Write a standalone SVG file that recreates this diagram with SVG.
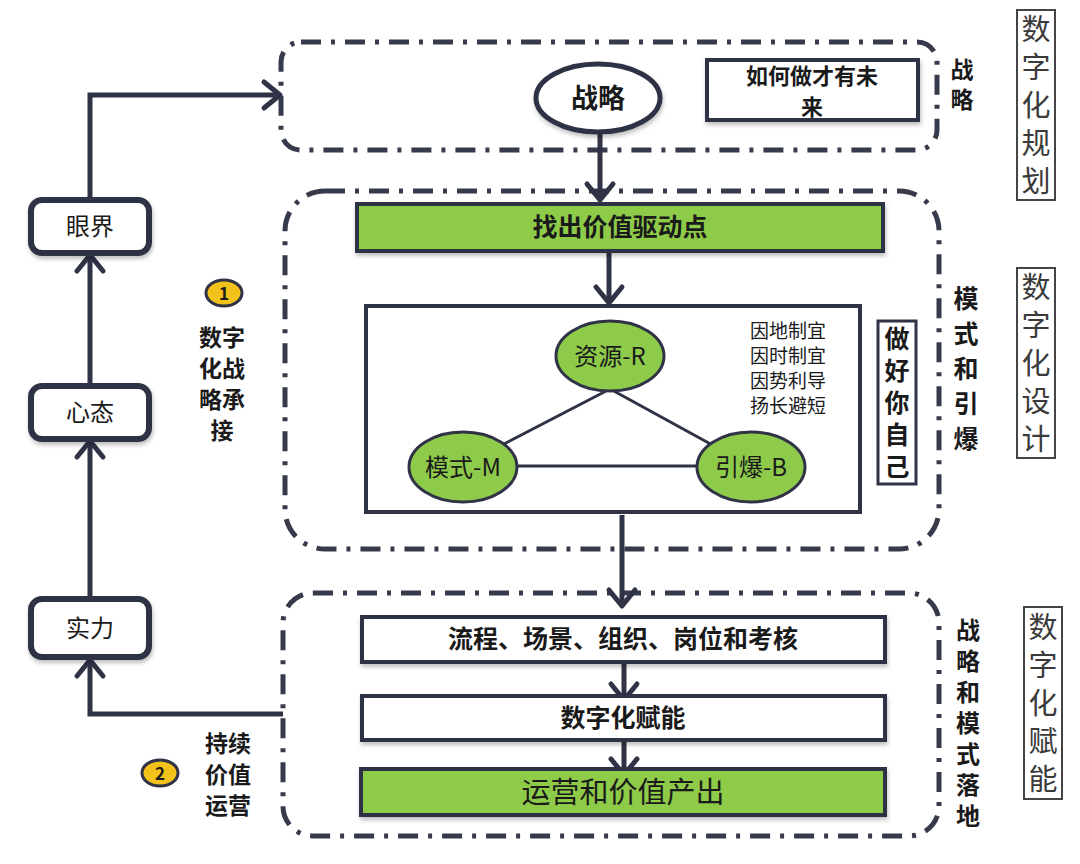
<svg xmlns="http://www.w3.org/2000/svg" width="1080" height="864" viewBox="0 0 1080 864">
<defs>
<style>
.dash{fill:none;stroke:#363a4b;stroke-width:5;stroke-dasharray:20 10 4 10;stroke-linecap:butt}
.box{fill:#fff;stroke:#2f3345;stroke-width:4}
.gbox{fill:#8ecb4a;stroke:#2f3345;stroke-width:4}
.rbox{fill:#fff;stroke:#2f3345;stroke-width:6}
.ell{fill:#8ecb4a;stroke:#2f3345;stroke-width:3}
.con{fill:none;stroke:#2f3345;stroke-width:5;stroke-linejoin:miter}
.edge{fill:none;stroke:#2f3345;stroke-width:3}
.t{font-family:"Noto Sans CJK SC","Noto Sans",sans-serif;fill:#1a1a1a;text-anchor:middle}
.b{font-weight:bold}
.v{writing-mode:vertical-rl;text-orientation:upright}
.side{font-family:"Noto Sans CJK SC",sans-serif;fill:#3a3a3a;font-size:29px;text-anchor:middle;writing-mode:vertical-rl;text-orientation:upright;letter-spacing:9px}
</style>
<marker id="ah" markerUnits="userSpaceOnUse" viewBox="-20 -17 24 34" refX="0" refY="0" markerWidth="24" markerHeight="34" orient="auto">
<path d="M-16,-13 L0,0 L-16,13" fill="none" stroke="#2f3345" stroke-width="5" stroke-linecap="round" stroke-linejoin="round"/>
</marker>
<filter id="sh" x="-10%" y="-10%" width="120%" height="130%">
<feDropShadow dx="1" dy="3" stdDeviation="2" flood-color="#000" flood-opacity="0.25"/>
</filter>
</defs>
<rect width="1080" height="864" fill="#fff"/>

<g id="frames">
<rect id="frame-strategy" class="dash" x="281" y="42" width="656" height="108" rx="20"/>
<rect id="frame-model" class="dash" x="285" y="191" width="654" height="358" rx="40"/>
<rect id="frame-landing" class="dash" x="283" y="593" width="656" height="243" rx="30"/>
</g>

<g id="node-inner"><rect x="366" y="306" width="494" height="206" fill="#fff" stroke="#2f3345" stroke-width="4"/></g>

<g id="connectors">
<polyline class="con" points="90,200 90,95 280,95" marker-end="url(#ah)"/>
<line class="con" x1="90" y1="386" x2="90" y2="255" marker-end="url(#ah)"/>
<line class="con" x1="90" y1="598" x2="90" y2="441" marker-end="url(#ah)"/>
<polyline class="con" points="283,714 90,714 90,660" marker-end="url(#ah)"/>
<line class="con" x1="600" y1="133" x2="600" y2="200" marker-end="url(#ah)"/>
<line class="con" x1="609" y1="253" x2="609" y2="303" marker-end="url(#ah)"/>
<line class="con" x1="622" y1="515" x2="622" y2="606" marker-end="url(#ah)"/>
<line class="con" x1="624" y1="662" x2="624" y2="700" marker-end="url(#ah)"/>
<line class="con" x1="624" y1="740" x2="624" y2="775" marker-end="url(#ah)"/>
<line class="edge" x1="608" y1="390" x2="500" y2="446"/>
<line class="edge" x1="612" y1="390" x2="716" y2="447"/>
<line class="edge" x1="517" y1="466" x2="697" y2="466"/>
</g>

<g id="node-yanjie"><rect class="rbox" x="31" y="200" width="118" height="53" rx="11" filter="url(#sh)"/><text class="t" x="90" y="235" font-size="24">眼界</text></g>
<g id="node-xintai"><rect class="rbox" x="31" y="386" width="118" height="53" rx="11" filter="url(#sh)"/><text class="t" x="90" y="421" font-size="24">心态</text></g>
<g id="node-shili"><rect class="rbox" x="31" y="599" width="118" height="58" rx="11" filter="url(#sh)"/><text class="t" x="90" y="637" font-size="24">实力</text></g>

<g id="badge-1"><ellipse cx="224" cy="293" rx="18" ry="13" fill="#f2c21b" stroke="#2f3345" stroke-width="3"/><text class="t b" x="224" y="300" font-size="17">1</text></g>
<g id="label-chengjie" class="t b" font-size="23">
<text x="222" y="346">数字</text><text x="222" y="377">化战</text><text x="222" y="408">略承</text><text x="222" y="439">接</text>
</g>
<g id="badge-2"><ellipse cx="160" cy="773" rx="18" ry="13" fill="#f2c21b" stroke="#2f3345" stroke-width="3"/><text class="t b" x="160" y="780" font-size="17">2</text></g>
<g id="label-yunying" class="t b" font-size="23">
<text x="228" y="752">持续</text><text x="228" y="783">价值</text><text x="228" y="814">运营</text>
</g>

<g id="node-zhanlue"><ellipse cx="598" cy="98" rx="62" ry="34" fill="#fff" stroke="#2f3345" stroke-width="5" filter="url(#sh)"/><text class="t b" x="598" y="108" font-size="27">战略</text></g>
<g id="node-weilai"><rect class="box" x="707" y="60" width="211" height="60" filter="url(#sh)"/><text class="t b" x="812" y="84" font-size="22">如何做才有未</text><text class="t b" x="812" y="115" font-size="22">来</text></g>
<text id="label-zhanlue" class="t b v" x="962" y="88" font-size="23" letter-spacing="7">战略</text>

<g id="node-jiazhi"><rect class="gbox" x="357" y="204" width="526" height="47" filter="url(#sh)"/><text class="t b" x="620" y="236" font-size="25">找出价值驱动点</text></g>
<g id="node-ziyuan"><ellipse class="ell" cx="610" cy="356" rx="54" ry="35"/><text class="t" x="610" y="365" font-size="24">资源-R</text></g>
<g id="node-moshi"><ellipse class="ell" cx="463" cy="467" rx="54" ry="35"/><text class="t" x="463" y="476" font-size="24">模式-M</text></g>
<g id="node-yinbao"><ellipse class="ell" cx="751" cy="467" rx="54" ry="35"/><text class="t" x="751" y="476" font-size="24">引爆-B</text></g>
<g id="label-yindi" class="t" font-size="19">
<text x="788" y="338">因地制宜</text><text x="788" y="363">因时制宜</text><text x="788" y="388">因势利导</text><text x="788" y="413">扬长避短</text>
</g>
<g id="node-zuohao"><rect x="878" y="321" width="38" height="163" fill="#fff" stroke="#2f3345" stroke-width="3"/>
<text class="t b v" x="897" y="406" font-size="25" letter-spacing="7">做好你自己</text></g>
<text id="label-moshi" class="t b v" x="966" y="373" font-size="25" letter-spacing="10">模式和引爆</text>

<g id="node-liucheng"><rect class="box" x="362" y="617" width="523" height="45" filter="url(#sh)"/><text class="t b" x="623" y="648" font-size="25">流程、场景、组织、岗位和考核</text></g>
<g id="node-funeng"><rect class="box" x="362" y="696" width="523" height="44" filter="url(#sh)"/><text class="t b" x="623" y="727" font-size="25">数字化赋能</text></g>
<g id="node-yunying"><rect class="gbox" x="361" y="769" width="524" height="46" filter="url(#sh)"/><text class="t" x="623" y="803" font-size="29">运营和价值产出</text></g>
<text id="label-luodi" class="t b v" x="968" y="726" font-size="24" letter-spacing="7">战略和模式落地</text>

<g id="side-guihua"><rect x="1017" y="10" width="38" height="190" fill="#fff" stroke="#444" stroke-width="2"/>
<text class="side" x="1036" y="109">数字化规划</text></g>
<g id="side-sheji"><rect x="1017" y="268" width="38" height="190" fill="#fff" stroke="#444" stroke-width="2"/>
<text class="side" x="1036" y="367">数字化设计</text></g>
<g id="side-funeng"><rect x="1024" y="607" width="38" height="192" fill="#fff" stroke="#444" stroke-width="2"/>
<text class="side" x="1043" y="707">数字化赋能</text></g>
</svg>
